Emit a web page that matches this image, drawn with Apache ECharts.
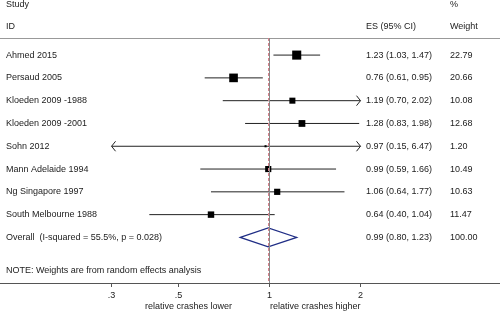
<!DOCTYPE html>
<html>
<head>
<meta charset="utf-8">
<script src="https://cdn.jsdelivr.net/npm/echarts@6/dist/echarts.min.js"></script>
<style>
  html, body { margin: 0; padding: 0; background: #fff; }
  #chart { width: 500px; height: 313px; }
</style>
</head>
<body>
<div id="chart"></div>
<script>
var studies = ['Ahmed 2015', 'Persaud 2005', 'Kloeden 2009 -1988', 'Kloeden 2009 -2001', 'Sohn 2012',
  'Mann Adelaide 1994', 'Ng Singapore 1997', 'South Melbourne 1988'];
var es = [1.23, 0.76, 1.19, 1.28, 0.97, 0.99, 1.06, 0.64];
var ciLow = [1.03, 0.61, 0.70, 0.83, 0.15, 0.59, 0.64, 0.40];
var ciHigh = [1.47, 0.95, 2.02, 1.98, 6.47, 1.66, 1.77, 1.04];
var weights = [22.79, 20.66, 10.08, 12.68, 1.20, 10.49, 10.63, 11.47];
var overallLabel = 'Overall  (I-squared = 55.5%, p = 0.028)';
var overallEs = 0.99, overallLow = 0.80, overallHigh = 1.23, overallWeight = 100.00;
var xTicks = [0.3, 0.5, 1, 2];
var tickLabels = ['.3', '.5', '1', '2'];

var FONT = "'Liberation Sans', Arial, sans-serif";
var TXT = '#222';
var clipMin = xTicks[0], clipMax = xTicks[xTicks.length - 1];

function ciText(e, l, h) {
  return e.toFixed(2) + ' (' + l.toFixed(2) + ', ' + h.toFixed(2) + ')';
}
function txt(x, y, s) {
  return { type: 'text', x: x, y: y, silent: true,
    style: { text: s, fill: TXT, fontSize: 9, fontFamily: FONT, verticalAlign: 'middle', align: 'left' } };
}

var rows = studies.map(function (s, i) {
  return [es[i], i, ciLow[i], ciHigh[i], weights[i]];
});

function renderStudy(params, api) {
  var i = api.value(1);
  var lo = api.value(2), hi = api.value(3), w = api.value(4);
  var c = api.coord([api.value(0), i]);
  var y = c[1];
  var lx = api.coord([Math.max(lo, clipMin), i])[0];
  var hx = api.coord([Math.min(hi, clipMax), i])[0];
  var ls = { stroke: '#222', lineWidth: 1 };
  var kids = [
    { type: 'line', shape: { x1: lx, y1: y, x2: hx, y2: y }, style: ls }
  ];
  if (lo < clipMin) {
    kids.push({ type: 'polyline', shape: { points: [[lx + 4, y - 5], [lx, y], [lx + 4, y + 5]] }, style: { stroke: '#222', fill: null, lineWidth: 1 } });
  }
  if (hi > clipMax) {
    kids.push({ type: 'polyline', shape: { points: [[hx - 4, y - 5], [hx, y], [hx - 4, y + 5]] }, style: { stroke: '#222', fill: null, lineWidth: 1 } });
  }
  var sz = 1.9 * Math.sqrt(w);
  kids.push({ type: 'rect', shape: { x: c[0] - sz / 2, y: y - sz / 2, width: sz, height: sz }, style: { fill: '#000' } });
  kids.push(txt(6, y, studies[i]));
  kids.push(txt(366, y, ciText(api.value(0), lo, hi)));
  kids.push(txt(450, y, w.toFixed(2)));
  return { type: 'group', children: kids };
}

function renderOverall(params, api) {
  var i = api.value(1);
  var c = api.coord([api.value(0), i]);
  var y = c[1];
  var lx = api.coord([api.value(2), i])[0];
  var hx = api.coord([api.value(3), i])[0];
  return { type: 'group', children: [
    { type: 'polygon', shape: { points: [[lx, y], [c[0], y - 9.5], [hx, y], [c[0], y + 9.5]] },
      style: { stroke: '#1f2d85', fill: null, lineWidth: 1.2 } },
    txt(6, y, overallLabel),
    txt(366, y, ciText(api.value(0), api.value(2), api.value(3))),
    txt(450, y, api.value(4).toFixed(2))
  ] };
}

var chart = echarts.init(document.getElementById('chart'));
chart.setOption({
  animation: false,
  grid: { left: 0, right: 0, top: 38, bottom: 30 },
  xAxis: [{
    type: 'log', min: 0.1282, max: 5.79, position: 'bottom',
    axisLine: { onZero: false, lineStyle: { color: '#555', width: 1 } },
    axisTick: { customValues: xTicks, length: 4, lineStyle: { color: '#555' } },
    axisLabel: {
      customValues: xTicks, margin: 8, fontSize: 9, fontFamily: FONT, color: TXT,
      formatter: function (v) { return tickLabels[xTicks.indexOf(v)] || ''; }
    },
    splitLine: { show: false }
  }, {
    type: 'log', min: 0.1282, max: 5.79, position: 'top',
    axisLine: { onZero: false, lineStyle: { color: '#999', width: 1 } },
    axisTick: { show: false }, axisLabel: { show: false }, splitLine: { show: false }
  }],
  yAxis: { type: 'value', inverse: true, min: -0.75, max: 10, show: false },
  graphic: [
    txt(6, 5, 'Study'), txt(6, 27, 'ID'), txt(366, 27, 'ES (95% CI)'),
    txt(450, 5, '%'), txt(450, 27, 'Weight'),
    txt(6, 270.5, 'NOTE: Weights are from random effects analysis'),
    txt(145, 306.5, 'relative crashes lower'), txt(270, 306.5, 'relative crashes higher')
  ],
  series: [{
    type: 'custom', renderItem: renderStudy, data: rows, encode: { x: 0, y: 1 },
    markLine: {
      silent: true, symbol: 'none', label: { show: false },
      data: [
        { xAxis: 1, lineStyle: { color: '#888', type: 'solid', width: 1 } },
        { xAxis: overallEs, lineStyle: { color: '#d8808c', type: [3, 2], width: 1 } }
      ]
    }
  }, {
    type: 'custom', renderItem: renderOverall,
    data: [[overallEs, studies.length, overallLow, overallHigh, overallWeight]], encode: { x: 0, y: 1 }
  }]
});
</script>
</body>
</html>
